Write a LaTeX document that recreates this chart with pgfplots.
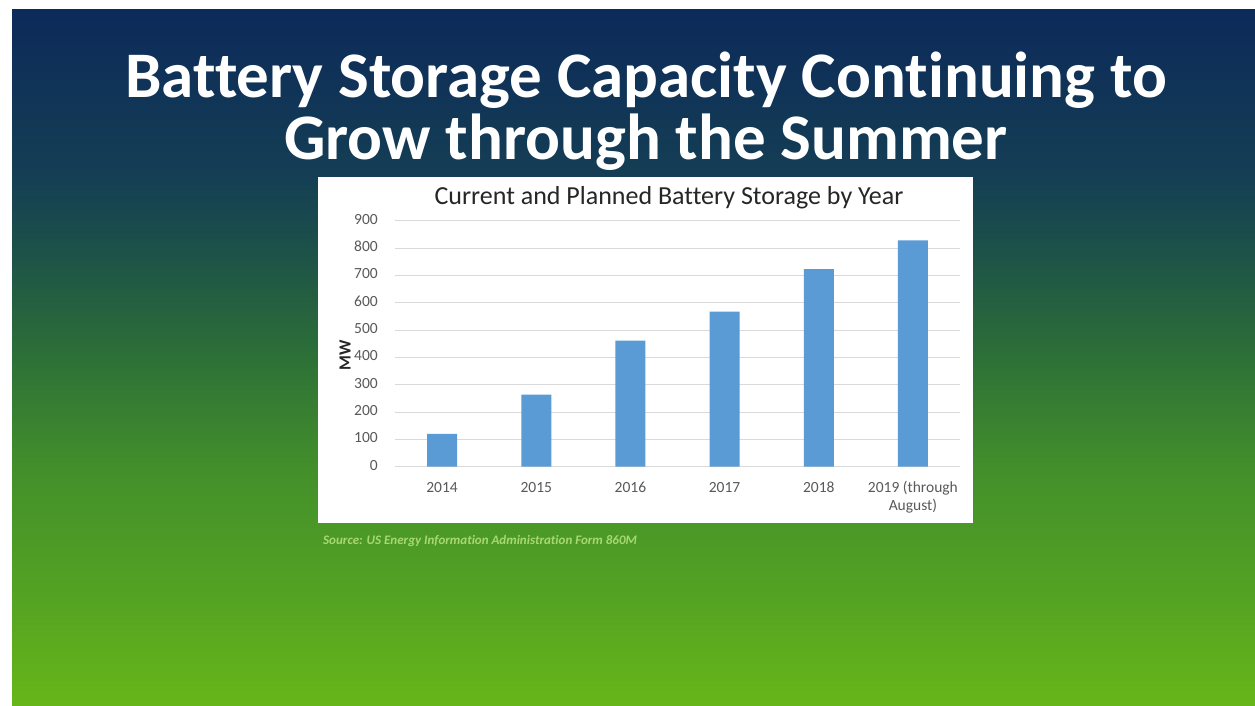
\documentclass[border=0pt]{standalone}
\usepackage{fontspec}
\setmainfont{Carlito}[Ligatures={NoCommon}]
\usepackage{pgfplots}
\pgfplotsset{compat=1.18}
\definecolor{barblue}{HTML}{5B9BD5}
\definecolor{gridgray}{HTML}{D9D9D9}
\definecolor{ticktext}{HTML}{595959}
\definecolor{bgA}{HTML}{0C2A5A}
\definecolor{bgB}{HTML}{153F54}
\definecolor{bgC}{HTML}{1E5447}
\definecolor{bgD}{HTML}{2C6E38}
\definecolor{bgE}{HTML}{43902B}
\definecolor{bgF}{HTML}{55A322}
\definecolor{bgG}{HTML}{66B619}
\definecolor{srcgreen}{HTML}{A8D874}
\begin{document}
\begin{tikzpicture}[x=1pt,y=1pt]
\fill[white] (0,0) rectangle (1255,-705);
\shade[top color=bgA, bottom color=bgB] (12,-9) rectangle (1255,-181);
\shade[top color=bgB, bottom color=bgC] (12,-180) rectangle (1255,-261);
\shade[top color=bgC, bottom color=bgD] (12,-260) rectangle (1255,-351);
\shade[top color=bgD, bottom color=bgE] (12,-350) rectangle (1255,-471);
\shade[top color=bgE, bottom color=bgF] (12,-470) rectangle (1255,-601);
\shade[top color=bgF, bottom color=bgG] (12,-600) rectangle (1255,-705);
\node[anchor=base, text=white, font=\bfseries\fontsize{65}{70}\selectfont, inner sep=0pt] at (646,-97) {Battery Storage Capacity Continuing to};
\node[anchor=base, text=white, font=\bfseries\fontsize{65}{70}\selectfont, inner sep=0pt] at (646,-159) {Grow through the Summer};
\fill[white] (318,-177) rectangle (973,-523);
\node[anchor=base, text=black!85, font=\fontsize{26}{30}\selectfont, inner sep=0pt] at (669,-204) {Current and Planned Battery Storage by Year};
\node[anchor=base west, text=srcgreen, font=\bfseries\itshape\fontsize{13}{15}\selectfont, inner sep=0pt] at (323,-544) {Source: US Energy Information Administration Form 860M};
\begin{axis}[
  at={(395pt,-466.7pt)}, anchor=south west,
  scale only axis, width=565pt, height=246pt,
  xmin=-0.5, xmax=5.5, ymin=0, ymax=900,
  ytick={0,100,...,900},
  xtick={0,1,2,3,4,5},
  xticklabels={2014,2015,2016,2017,2018,{2019 (through\\August)}},
  axis line style={draw=none},
  major tick length=0pt,
  ymajorgrids, grid style={draw=gridgray, line width=1pt},
  /pgf/number format/assume math mode=true,
  typeset ticklabels with strut,
  tick label style={font=\fontsize{15.5}{18}\selectfont, text=ticktext},
  yticklabel style={anchor=east, inner sep=0pt, xshift=-17pt},
  xticklabel style={anchor=north, inner sep=0pt, yshift=-13pt, align=center},
  ylabel={MW}, ylabel style={font=\bfseries\fontsize{17}{20}\selectfont, text=black!85, at={(ticklabel cs:0.5)}, xshift=-12pt},
  clip=false,
]
\addplot[ybar, bar width=30pt, fill=barblue, draw=none] coordinates {(0,120) (1,264) (2,461) (3,567) (4,723) (5,828)};
\end{axis}
\end{tikzpicture}
\end{document}
